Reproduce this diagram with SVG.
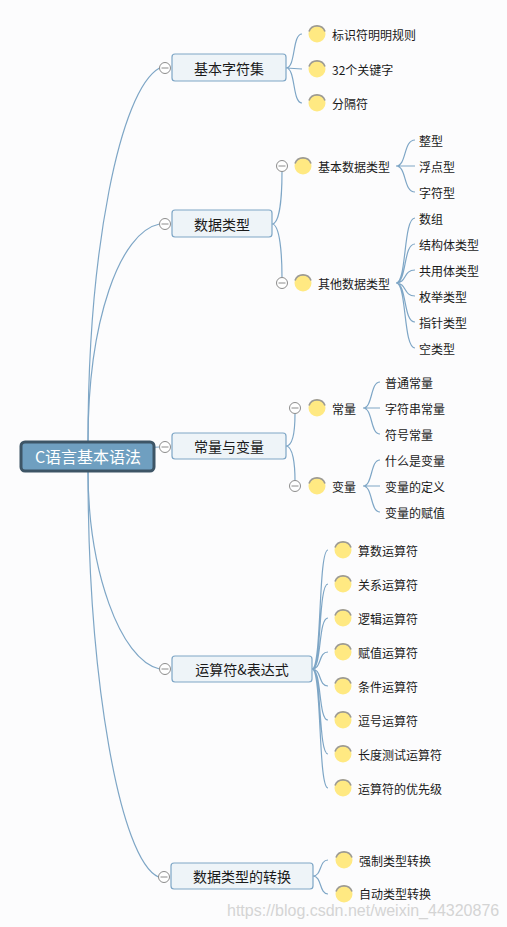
<svg xmlns="http://www.w3.org/2000/svg" xmlns:xlink="http://www.w3.org/1999/xlink" width="507" height="927" viewBox="0 0 507 927">
<style>
.t{font-family:"Noto Sans CJK SC","Liberation Sans",sans-serif;fill:#1a1a1a;dominant-baseline:central}
.leaf{font-size:12px}
.br{font-size:14px;text-anchor:middle}
.root{font-size:16px;fill:#ffffff;text-anchor:middle}
.c{fill:none;stroke:#7ea6c6;stroke-width:1.2}
.box{fill:#eef4f8;stroke:#7ea6c6;stroke-width:1.2}
.wm{font-family:"Liberation Sans",Arial,sans-serif;font-size:16px;fill:#d4d4d4}
</style>
<defs>
<g id="bul">
<circle cx="0" cy="0" r="8.5" fill="#ffe982"/>
<path d="M-8,-2.5 A8.5,8.5 0 0 1 8,-2.5" fill="none" stroke="#9c9a94" stroke-width="1.6"/>
</g>
<g id="col">
<circle cx="0" cy="0" r="5.5" fill="#ffffff" stroke="#8c8c8c" stroke-width="1"/>
<line x1="-3.5" y1="0" x2="3.5" y2="0" stroke="#8c8c8c" stroke-width="1"/>
</g>
</defs>
<rect x="0" y="0" width="507" height="927" fill="#fcfcfd"/>

<g id="connectors">
<path class="c" d="M88,442 C88,250 120,90 159.5,68"/>
<path class="c" d="M88,442 C88,320 120,232 159.5,224"/>
<path class="c" d="M88,456 C120,456 140,447 159.5,447"/>
<path class="c" d="M88,470 C88,570 120,660 159.5,669"/>
<path class="c" d="M88,470 C88,680 120,860 158.5,877"/>

<path class="c" d="M286,68 C296,68 292,34 302,34 M286,68 L302,69 M286,68 C296,68 292,103 302,103"/>

<path class="c" d="M272,224 C280,224 282,195 282,171.5 M272,224 C280,224 282,255 282,277.5"/>
<path class="c" d="M396,166 C407,166 403,140 415,140 M396,166 L415,166 M396,166 C407,166 403,192 415,192"/>
<path class="c" d="M396,283 C407,283 403,218 415,218 M396,283 C407,283 403,244 415,244 M396,283 C407,283 403,270 415,270 M396,283 C407,283 403,296 415,296 M396,283 C407,283 403,322 415,322 M396,283 C407,283 403,348 415,348"/>

<path class="c" d="M286,446 C293,446 295,430 295,413.5 M286,446 C293,446 295,465 295,480.5"/>
<path class="c" d="M363,408 C373,408 370,382 380,382 M363,408 L380,408 M363,408 C373,408 370,434 380,434"/>
<path class="c" d="M363,486 C373,486 370,460 380,460 M363,486 L380,486 M363,486 C373,486 370,512 380,512"/>

<path class="c" d="M312,669 C322,669 318,550 328,550 M312,669 C322,669 318,584 328,584 M312,669 C322,669 318,618 328,618 M312,669 C322,669 318,652 328,652 M312,669 C322,669 318,686 328,686 M312,669 C322,669 318,720 328,720 M312,669 C322,669 318,754 328,754 M312,669 C322,669 318,788 328,788"/>

<path class="c" d="M313,876 C322,876 319,860 328,860 M313,876 C322,876 319,894 328,894"/>
</g>

<g id="root">
<rect x="21" y="442" width="133" height="29" rx="4" fill="#6f9fc0" stroke="#3d5566" stroke-width="3"/>
<text class="t root" x="88" y="456">C语言基本语法</text>
</g>

<g id="b1">
<use xlink:href="#col" x="165" y="68"/>
<rect class="box" x="172" y="54" width="114" height="27" rx="3"/>
<text class="t br" x="229" y="67.5">基本字符集</text>
</g>
<g id="b1-1"><use xlink:href="#bul" x="317" y="34"/><text class="t leaf" x="332" y="34">标识符明明规则</text></g>
<g id="b1-2"><use xlink:href="#bul" x="317" y="69"/><text class="t leaf" x="332" y="69">32个关键字</text></g>
<g id="b1-3"><use xlink:href="#bul" x="317" y="103"/><text class="t leaf" x="332" y="103">分隔符</text></g>

<g id="b2">
<use xlink:href="#col" x="165" y="224"/>
<rect class="box" x="172" y="210" width="100" height="27" rx="3"/>
<text class="t br" x="222" y="223.5">数据类型</text>
</g>
<g id="b2-1"><use xlink:href="#col" x="282" y="166"/><use xlink:href="#bul" x="303" y="166"/><text class="t leaf" x="318" y="166">基本数据类型</text></g>
<g id="b2-1-1"><text class="t leaf" x="419" y="140">整型</text></g>
<g id="b2-1-2"><text class="t leaf" x="419" y="166">浮点型</text></g>
<g id="b2-1-3"><text class="t leaf" x="419" y="192">字符型</text></g>
<g id="b2-2"><use xlink:href="#col" x="282" y="283"/><use xlink:href="#bul" x="303" y="283"/><text class="t leaf" x="318" y="283">其他数据类型</text></g>
<g id="b2-2-1"><text class="t leaf" x="419" y="218">数组</text></g>
<g id="b2-2-2"><text class="t leaf" x="419" y="244">结构体类型</text></g>
<g id="b2-2-3"><text class="t leaf" x="419" y="270">共用体类型</text></g>
<g id="b2-2-4"><text class="t leaf" x="419" y="296">枚举类型</text></g>
<g id="b2-2-5"><text class="t leaf" x="419" y="322">指针类型</text></g>
<g id="b2-2-6"><text class="t leaf" x="419" y="348">空类型</text></g>

<g id="b3">
<use xlink:href="#col" x="165" y="447"/>
<rect class="box" x="172" y="433" width="114" height="26" rx="3"/>
<text class="t br" x="229" y="446">常量与变量</text>
</g>
<g id="b3-1"><use xlink:href="#col" x="295" y="408"/><use xlink:href="#bul" x="317" y="408"/><text class="t leaf" x="332" y="408">常量</text></g>
<g id="b3-1-1"><text class="t leaf" x="385" y="382">普通常量</text></g>
<g id="b3-1-2"><text class="t leaf" x="385" y="408">字符串常量</text></g>
<g id="b3-1-3"><text class="t leaf" x="385" y="434">符号常量</text></g>
<g id="b3-2"><use xlink:href="#col" x="295" y="486"/><use xlink:href="#bul" x="317" y="486"/><text class="t leaf" x="332" y="486">变量</text></g>
<g id="b3-2-1"><text class="t leaf" x="385" y="460">什么是变量</text></g>
<g id="b3-2-2"><text class="t leaf" x="385" y="486">变量的定义</text></g>
<g id="b3-2-3"><text class="t leaf" x="385" y="512">变量的赋值</text></g>

<g id="b4">
<use xlink:href="#col" x="165" y="669"/>
<rect class="box" x="172" y="656" width="140" height="26" rx="3"/>
<text class="t br" x="242" y="669">运算符&amp;表达式</text>
</g>
<g id="b4-1"><use xlink:href="#bul" x="343" y="550"/><text class="t leaf" x="358" y="550">算数运算符</text></g>
<g id="b4-2"><use xlink:href="#bul" x="343" y="584"/><text class="t leaf" x="358" y="584">关系运算符</text></g>
<g id="b4-3"><use xlink:href="#bul" x="343" y="618"/><text class="t leaf" x="358" y="618">逻辑运算符</text></g>
<g id="b4-4"><use xlink:href="#bul" x="343" y="652"/><text class="t leaf" x="358" y="652">赋值运算符</text></g>
<g id="b4-5"><use xlink:href="#bul" x="343" y="686"/><text class="t leaf" x="358" y="686">条件运算符</text></g>
<g id="b4-6"><use xlink:href="#bul" x="343" y="720"/><text class="t leaf" x="358" y="720">逗号运算符</text></g>
<g id="b4-7"><use xlink:href="#bul" x="343" y="754"/><text class="t leaf" x="358" y="754">长度测试运算符</text></g>
<g id="b4-8"><use xlink:href="#bul" x="343" y="788"/><text class="t leaf" x="358" y="788">运算符的优先级</text></g>

<g id="b5">
<use xlink:href="#col" x="164" y="877"/>
<rect class="box" x="171" y="863" width="142" height="26" rx="3"/>
<text class="t br" x="242" y="876">数据类型的转换</text>
</g>
<g id="b5-1"><use xlink:href="#bul" x="344" y="860"/><text class="t leaf" x="359" y="860">强制类型转换</text></g>
<g id="b5-2"><use xlink:href="#bul" x="344" y="894"/><text class="t leaf" x="359" y="893">自动类型转换</text></g>

<text class="wm" x="227" y="916">https://blog.csdn.net/weixin_44320876</text>
</svg>
